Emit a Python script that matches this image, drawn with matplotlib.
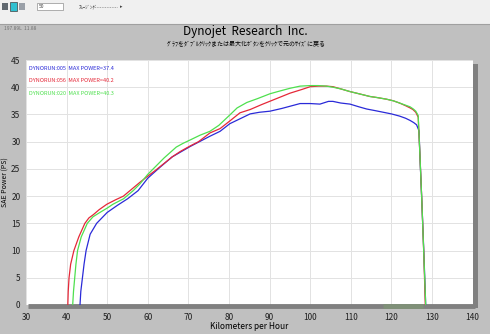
import matplotlib
matplotlib.use("Agg")
import matplotlib.pyplot as plt
from matplotlib.patches import Rectangle

plt.rcParams['font.family'] = ['Liberation Sans Narrow', 'Noto Sans CJK JP', 'DejaVu Sans']

# ---------------- data ----------------
title = "Dynojet  Research  Inc."
subtitle = "ｸﾞﾗﾌをﾀﾞﾌﾞﾙｸﾘｯｸまたは最大化ﾎﾞﾀﾝをｸﾘｯｸで元のｻｲｽﾞに戻る"
xlabel = "Kilometers per Hour"
ylabel = "SAE Power (PS)"
legend_labels = ["DYNORUN:005  MAX POWER=37.4",
                 "DYNORUN:056  MAX POWER=40.2",
                 "DYNORUN:020  MAX POWER=40.3"]
series_colors = ["#2a2ad8", "#e52838", "#4ee04e"]

x_ticks = [30, 40, 50, 60, 70, 80, 90, 100, 110, 120, 130, 140]
y_ticks = [0, 5, 10, 15, 20, 25, 30, 35, 40, 45]

blue_x = [43.3, 43.5, 43.9, 44.3, 44.8, 45.8, 47.4, 50.0, 52.5, 55.0, 57.6, 60.0,
          63.0, 66.0, 70.4, 75.3, 77.8, 80.2, 82.7, 85.2, 87.5, 90.1, 93.0, 95.0,
          97.5, 100.0, 102.4, 104.5, 105.6, 107.5, 109.8, 112.0, 113.9, 116.0,
          118.0, 120.0, 122.0, 123.5, 124.6, 125.5, 126.2, 126.8, 127.1, 127.5,
          128.0, 128.45]
blue_y = [0, 2.5, 5, 7.5, 10, 13, 15, 17, 18.3, 19.5, 21.0, 23.3,
          25.3, 27.2, 29.1, 31.0, 31.9, 33.3, 34.2, 35.1, 35.4, 35.6, 36.1, 36.5,
          37.0, 37.0, 36.9, 37.4, 37.4, 37.1, 36.9, 36.4, 36.0, 35.7,
          35.4, 35.1, 34.7, 34.3, 33.9, 33.5, 33.1, 32.0, 26.0, 19.0,
          9.5, 0]

red_x = [40.3, 40.4, 40.6, 41.0, 41.8, 43.0, 44.5, 45.5, 46.6, 48.0, 49.9, 52.0,
         54.0, 56.4, 58.0, 59.7, 62.0, 64.0, 66.0, 68.0, 70.4, 72.5, 75.3, 77.8,
         80.2, 82.7, 85.2, 88.0, 90.0, 93.0, 95.0, 98.0, 100.0, 102.0, 104.0,
         105.6, 107.5, 109.8, 112.0, 114.7, 116.5, 118.8, 120.5, 122.0, 123.5,
         124.6, 125.3, 126.0, 126.6, 127.0, 127.5, 128.0, 128.35]
red_y = [0, 2.5, 5, 7.5, 10, 12.5, 15, 16.0, 16.6, 17.5, 18.5, 19.3,
         20.0, 21.5, 22.5, 23.5, 24.8, 26.0, 27.2, 28.2, 29.2, 30.0, 31.6, 32.4,
         33.8, 35.3, 35.9, 36.8, 37.4, 38.3, 38.9, 39.6, 40.1, 40.2, 40.2,
         40.1, 39.7, 39.2, 38.8, 38.3, 38.1, 37.8, 37.5, 37.1, 36.6,
         36.2, 35.9, 35.4, 34.5, 28.0, 19.0, 9.0, 0]

green_x = [41.5, 41.7, 42.0, 42.3, 42.7, 43.6, 45.1, 46.5, 48.2, 50.0, 51.4, 54.0,
           56.4, 58.0, 60.0, 62.0, 64.0, 65.5, 67.0, 68.7, 70.4, 72.9, 75.3, 77.5,
           80.2, 82.0, 84.4, 87.0, 90.1, 92.5, 95.0, 97.5, 100.0, 102.0, 104.0,
           105.6, 107.5, 109.8, 112.0, 114.7, 116.5, 118.8, 120.5, 122.0, 123.5,
           124.6, 125.4, 126.0, 126.6, 127.0, 127.5, 128.0, 128.45]
green_y = [0, 2.5, 5, 7.5, 10, 12.5, 15, 16.2, 17.0, 17.8, 18.5, 19.5,
           21.0, 22.2, 24.0, 25.5, 27.0, 28.0, 29.0, 29.7, 30.3, 31.2, 31.9, 33.0,
           34.9, 36.2, 37.2, 37.9, 38.8, 39.3, 39.8, 40.2, 40.3, 40.3, 40.2,
           40.0, 39.7, 39.2, 38.8, 38.3, 38.1, 37.8, 37.5, 37.1, 36.7,
           36.4, 36.0, 35.6, 34.8, 28.0, 19.0, 9.0, 0]

series = [(blue_x, blue_y), (red_x, red_y), (green_x, green_y)]

# ---------------- figure ----------------
W, H = 490, 334
fig = plt.figure(figsize=(W / 100, H / 100), dpi=100)
fig.patch.set_facecolor("#c0c0c0")

# background canvas in pixel coords
bg = fig.add_axes([0, 0, 1, 1])
bg.set_xlim(0, W)
bg.set_ylim(H, 0)
bg.axis("off")
bg.add_patch(Rectangle((0, 0), W, 24, facecolor="#f0f0f0", edgecolor="none"))
bg.plot([0, W], [24, 24], color="#a0a0a0", lw=0.8)
# toolbar icons
bg.add_patch(Rectangle((2, 3), 6, 7, facecolor="#606870", edgecolor="none"))
bg.add_patch(Rectangle((10, 2), 7, 9, facecolor="#30c0d0", edgecolor="#404040", lw=0.5))
bg.add_patch(Rectangle((19, 3), 6, 7, facecolor="#9aa0a8", edgecolor="none"))
bg.add_patch(Rectangle((37, 3), 26, 7, facecolor="white", edgecolor="#909090", lw=0.5))
bg.text(39, 6.5, "50", fontsize=3.5, va="center", color="#404040")
bg.text(79, 6.5, "ｽﾑｰｼﾞﾝｸﾞ", fontsize=3.5, va="center", color="#404040",
        family=["Noto Sans CJK JP", "DejaVu Sans"])
bg.plot([93, 117], [6.5, 6.5], color="#909090", lw=0.6, ls=(0, (1, 1)))
bg.text(120, 6.5, "▸", fontsize=3.5, va="center", color="#404040",
        family=["DejaVu Sans"])
bg.text(4, 28, "197.89L  11.88", fontsize=3.5, va="center", color="#707070")

bg.text(245, 32, title, fontsize=8.5, ha="center", va="center", color="black")
bg.text(246, 43.5, subtitle, fontsize=4.3, ha="center", va="center", color="black",
        family=["Noto Sans CJK JP", "DejaVu Sans"])
bg.text(5.5, 182, ylabel, fontsize=5, ha="center", va="center", rotation=90,
        color="black")

# shadow bar (right)
bg.add_patch(Rectangle((473, 64), 5, 244, facecolor="#808080", edgecolor="none"))

# ---------------- plot axes ----------------
x0, x1 = 26, 472.6
y_top, y_bot = 60, 305
ax = fig.add_axes([x0 / W, 1 - y_bot / H, (x1 - x0) / W, (y_bot - y_top) / H])
ax.set_facecolor("white")
ax.set_xlim(30, 140)
ax.set_ylim(0, 45)
ax.set_xticks(x_ticks)
ax.set_yticks(y_ticks)
ax.grid(True, color="#e2e2e2", lw=0.7)
ax.set_axisbelow(True)
for s in ax.spines.values():
    s.set_visible(False)
ax.tick_params(length=0, labelsize=6, colors="#202020")
ax.tick_params(axis="y", pad=4)
ax.tick_params(axis="x", pad=6)
ax.set_xlabel(xlabel, fontsize=6, labelpad=0)

for (xs, ys), c in zip(series, series_colors):
    ax.plot(xs, ys, color=c, lw=0.9, solid_joinstyle="round")

# bottom bar at zero line
ax.plot([30.5, 140.5], [-0.2, -0.2], color="#808080", lw=3.5, clip_on=False,
        solid_capstyle="butt", zorder=1)
ax.plot([118, 127.8], [-0.2, -0.2], color="#7f9078", lw=3.5, clip_on=False,
        solid_capstyle="butt", zorder=1)

for i, (lab, c) in enumerate(zip(legend_labels, series_colors)):
    ax.text(0.007, 0.975 - i * 0.05, lab, transform=ax.transAxes, fontsize=4,
            color=c, va="top", ha="left")

fig.savefig("out.png", dpi=100, facecolor=fig.get_facecolor())
